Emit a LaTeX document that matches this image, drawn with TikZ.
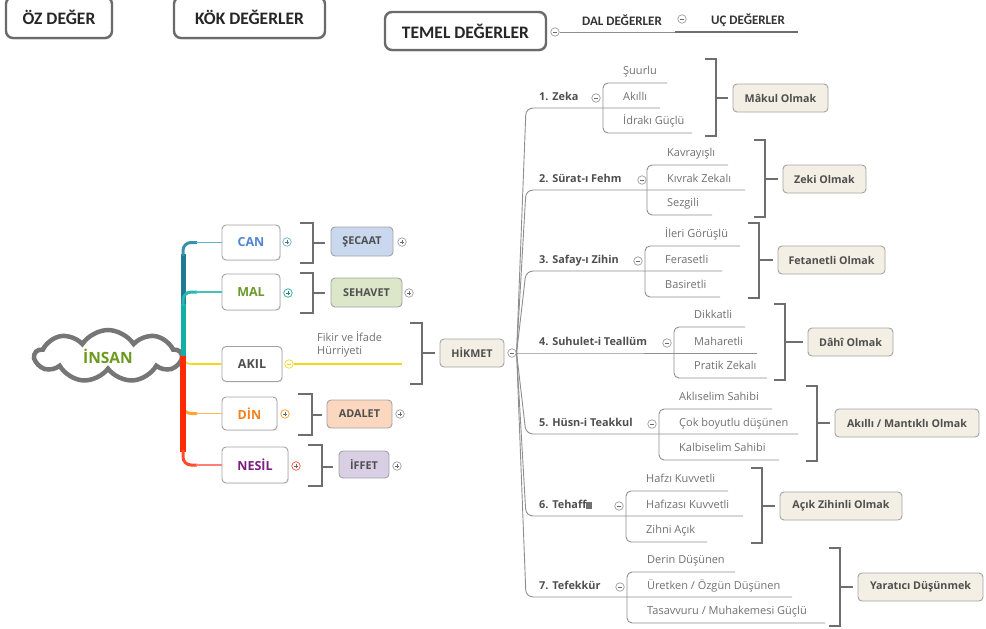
\documentclass[tikz,border=0pt]{standalone}
\usepackage{fontspec}
\setmainfont{Open Sans}
\newfontfamily\hdrfont{Carlito}
\usetikzlibrary{shapes.symbols,shadows,calc}

\definecolor{hdrgray}{HTML}{6A6A6A}
\definecolor{boxgray}{HTML}{A3A3A3}
\definecolor{linegray}{HTML}{8E8E8E}
\definecolor{brgray}{HTML}{6E6E6E}
\definecolor{toggray}{HTML}{9C9C9C}
\definecolor{signgray}{HTML}{6A6A6A}
\definecolor{txtdark}{HTML}{4F4F4F}
\definecolor{txtlight}{HTML}{707070}
\definecolor{cream}{HTML}{F3EFE4}
\definecolor{cloudgray}{HTML}{767676}
\definecolor{canD}{HTML}{1F7896}
\definecolor{canL}{HTML}{5DB6CB}
\definecolor{canT}{HTML}{4F86D0}
\definecolor{malD}{HTML}{12B0A4}
\definecolor{malL}{HTML}{45C5BA}
\definecolor{malT}{HTML}{6B9A2A}
\definecolor{akilC}{HTML}{F7D51E}
\definecolor{dinD}{HTML}{FF9A1F}
\definecolor{dinL}{HTML}{FFB657}
\definecolor{dinT}{HTML}{F08020}
\definecolor{nesD}{HTML}{FF2A00}
\definecolor{nesL}{HTML}{FF8076}
\definecolor{nesT}{HTML}{7B1F7F}
\definecolor{insanT}{HTML}{6B9A1E}
\definecolor{secF}{HTML}{C9D8EF}
\definecolor{sehF}{HTML}{DCE6C9}
\definecolor{adaF}{HTML}{FAD7BE}
\definecolor{iffF}{HTML}{D8CFE5}

\tikzset{
  hdr/.style={draw=hdrgray, line width=2.4pt, rounded corners=7pt, fill=white,
    font=\hdrfont\bfseries\fontsize{17.5}{19}\selectfont, text=black!85,
    drop shadow={opacity=0.25, shadow xshift=1pt, shadow yshift=-1.5pt}},
  hdrtxt/.style={font=\hdrfont\bfseries\fontsize{13}{15}\selectfont, text=black!80, inner sep=0pt},
  kok/.style={draw=boxgray, line width=0.9pt, rounded corners=4pt, fill=white,
    font=\bfseries\fontsize{12.5}{14}\selectfont, inner sep=0pt,
    drop shadow={opacity=0.15, shadow xshift=0.8pt, shadow yshift=-1pt}},
  val/.style={draw=boxgray, line width=0.9pt, rounded corners=4pt,
    font=\bfseries\fontsize{10.8}{12}\selectfont, text=txtdark, inner sep=0pt, minimum height=28pt},
  res/.style={draw=boxgray, line width=0.9pt, rounded corners=4pt, fill=cream,
    font=\bfseries\fontsize{10.7}{12}\selectfont, text=txtdark, inner sep=0pt, minimum height=28pt},
  sub/.style={font=\bfseries\fontsize{10.9}{12}\selectfont, text=txtdark, anchor=west,
    inner sep=0pt, text height=8pt, text depth=2.3pt},
  item/.style={font=\fontsize{11}{13}\selectfont, text=txtlight, anchor=west,
    inner sep=0pt, text height=8.3pt, text depth=2.6pt},
  mline/.style={draw=linegray, line width=0.9pt},
  brk/.style={draw=brgray, line width=2.2pt},
  tog/.style={circle, draw=toggray, fill=white, line width=0.7pt, minimum size=8.5pt, inner sep=0pt},
  minus/.style={path picture={\draw[#1, line width=0.8pt]
      ([xshift=2.1pt]path picture bounding box.west) -- ([xshift=-2.1pt]path picture bounding box.east);}},
  minus/.default=signgray,
  plus/.style={path picture={\draw[#1, line width=0.8pt]
      ([xshift=2.1pt]path picture bounding box.west) -- ([xshift=-2.1pt]path picture bounding box.east)
      ([yshift=-2.1pt]path picture bounding box.north) -- ([yshift=2.1pt]path picture bounding box.south);}},
  plus/.default=signgray
}

% one sub-branch of HİKMET: its line, the three underlines and the toggle
% #1 id, #2 line y, #3 top y, #4 bottom y, #5 bracket x, #6/#7/#8 ends, #9 toggle x
\newcommand\twig[9]{%
  \coordinate (#1-m) at (526,#2);
  \coordinate (#1-me) at (#7,#2);
  \coordinate (#1-tc) at (#5,#3);
  \coordinate (#1-te) at (#6,#3);
  \coordinate (#1-bc) at (#5,#4);
  \coordinate (#1-be) at (#8,#4);
  \coordinate (#1-mc) at (#5,#2);
  \draw[mline, rounded corners=7pt] (hk-tog.east) -- (#1-m) -- (#1-me);
  \draw[mline, rounded corners=5pt] (#1-te) -- (#1-tc) -- (#1-bc) -- (#1-be);
  \node[tog, minus] (#1-tog) at (#9,#2-10) {};
}
% the labels of a sub-branch
\newcommand\twigtext[5]{%
  \node[sub]  (#1-lab) at ($(#1-m)+(13,-10)$) {#2};
  \node[item] (#1-c1)  at ($(#1-tc)+(20,-11)$) {#3};
  \node[item] (#1-c2)  at ($(#1-mc)+(20,-10)$) {#4};
  \node[item] (#1-c3)  at ($(#1-bc)+(20,-11)$) {#5};
}
% closing bracket with its result box
% #1 id, #2 bracket x, #3 top, #4 bottom, #5 mid y, #6 stub end, #7 box centre x, #8 box width, #9 text
\newcommand\fruit[9]{%
  \draw[brk] (#2-11,#3) -- (#2,#3) -- (#2,#4) -- (#2-11,#4);
  \coordinate (#1-br) at (#2,#5);
  \node[res, minimum width=#8pt] (#1) at (#7,#5) {#9};
  \draw[brk] (#1-br) -- ([xshift=-5pt]#1.west |- #1-br);
}

\begin{document}
\begin{tikzpicture}[x=1pt,y=-1pt]
\useasboundingbox (0,0) rectangle (986,629);

% ---- level headings
\node[hdr, minimum width=106pt, minimum height=41pt] (oz) at (59,17.5) {ÖZ DEĞER};
\node[hdr, minimum width=151pt, minimum height=41pt] (kok) at (249.5,17.5) {KÖK DEĞERLER};
\node[hdr, minimum width=161pt, minimum height=38pt] (temel) at (465.5,31) {TEMEL DEĞERLER};
\node[tog, minus] (temel-tog) at (555,32) {};
\node[hdrtxt] (dal) at (622,20) {DAL DEĞERLER};
\node[tog, minus] (dal-tog) at (682,19) {};
\node[hdrtxt] (uc) at (748,20) {UÇ DEĞERLER};
\coordinate (dal-end) at (675,32);
\coordinate (uc-end) at (798,32);
\draw[mline] (temel-tog.east) -- (dal-end);
\draw[draw=brgray, line width=2.6pt] (dal-end) -- (uc-end);

% ---- central cloud
\node[cloud, cloud puffs=9, cloud puff arc=115, aspect=2.7, draw=cloudgray, line width=4.5pt,
      fill=white, minimum width=146pt, minimum height=52pt, inner sep=0pt,
      font=\bfseries\fontsize{15.5}{17}\selectfont, text=insanT] (insan) at (108,356) {İNSAN};
\coordinate (root) at (183,356);

% ---- root values
\node[kok, minimum width=58pt, minimum height=35pt, text=canT] (can) at (251,242.5) {CAN};
\node[kok, minimum width=58pt, minimum height=36pt, text=malT] (mal) at (251,292) {MAL};
\node[kok, minimum width=60pt, minimum height=35pt, text=txtdark] (akil) at (252,364) {AKIL};
\node[kok, minimum width=55pt, minimum height=33pt, text=dinT] (din) at (249.5,413.5) {DİN};
\node[kok, minimum width=66pt, minimum height=36pt, text=nesT] (nesil) at (255,465) {NESİL};

% ---- coloured limbs from the cloud
\draw[canD, line width=5pt] (root) -- (183,254);
\draw[canD!60!canL, line width=3pt, rounded corners=8pt] (183,256) -- (183,242.5) -- (197,242.5);
\draw[canL, line width=1.6pt] (196,242.5) -- (can.west);
\draw[malD, line width=5pt] (root) -- (183,304);
\draw[malD!60!malL, line width=3pt, rounded corners=8pt] (183,306) -- (183,292) -- (197,292);
\draw[malL, line width=1.6pt] (196,292) -- (mal.west);
\draw[akilC, line width=1.6pt] (root) .. controls (184,362) and (186,364) .. (192,364) -- (akil.west);
\draw[dinD, line width=5pt] (root) -- (183,402);
\draw[dinD!60!dinL, line width=3pt, rounded corners=8pt] (183,400) -- (183,413.5) -- (197,413.5);
\draw[dinL, line width=1.6pt] (196,413.5) -- (din.west);
\draw[nesD, line width=5.5pt] (root) -- (183,452);
\draw[nesD!60!nesL, line width=3pt, rounded corners=8pt] (183,450) -- (183,465) -- (197,465);
\draw[nesL, line width=1.6pt] (196,465) -- (nesil.west);

\node[tog, plus, draw=canL] (can-tog) at (287,242) {};
\node[tog, plus, draw=malD] (mal-tog) at (288,293) {};
\node[tog, minus=akilC, draw=akilC] (akil-tog) at (289,364) {};
\node[tog, plus, draw=dinD] (din-tog) at (285,414) {};
\node[tog, plus, draw=nesD!80] (nesil-tog) at (296,466) {};

% ---- virtues behind the root values
\node[val, fill=secF, minimum width=62pt, minimum height=29pt] (secaat) at (362,241.5) {ŞECAAT};
\node[val, fill=sehF, minimum width=71pt, minimum height=29pt] (sehavet) at (366.5,292.5) {SEHAVET};
\node[val, fill=adaF, minimum width=65pt] (adalet) at (359.5,414) {ADALET};
\node[val, fill=iffF, minimum width=50pt, minimum height=27pt] (iffet) at (364,464.5) {İFFET};
\node[tog, plus] (secaat-tog) at (402,242) {};
\node[tog, plus] (sehavet-tog) at (409,293) {};
\node[tog, plus] (adalet-tog) at (400,414) {};
\node[tog, plus] (iffet-tog) at (397,466) {};

\draw[brk] (300,223) -- (313,223) -- (313,263) -- (300,263);
\coordinate (can-br) at (313,243);
\draw[brk] (can-br) -- ([xshift=-6pt]secaat.west |- can-br);
\draw[brk] (300,273) -- (313,273) -- (313,313) -- (300,313);
\coordinate (mal-br) at (313,293);
\draw[brk] (mal-br) -- ([xshift=-6pt]sehavet.west |- mal-br);
\draw[brk] (298,394) -- (312,394) -- (312,435) -- (298,435);
\coordinate (din-br) at (312,415);
\draw[brk] (din-br) -- ([xshift=-5pt]adalet.west |- din-br);
\draw[brk] (308,445) -- (322,445) -- (322,486) -- (308,486);
\coordinate (nesil-br) at (322,467);
\draw[brk] (nesil-br) -- ([xshift=-6pt]iffet.west |- nesil-br);

% ---- AKIL towards HİKMET
\node[item, anchor=north west, align=left, text height=, text depth=, font=\fontsize{11}{13.5}\selectfont]
  (fikir) at (317,331) {Fikir ve İfade\\Hürriyeti};
\coordinate (akil-end) at (402,364);
\draw[akilC, line width=1.4pt] (akil-tog.east) -- (akil-end);
\node[res, minimum width=64pt] (hikmet) at (472,353) {HİKMET};
\draw[brk] (410,323) -- (422,323) -- (422,384) -- (410,384);
\coordinate (akil-br) at (422,353);
\draw[brk] (akil-br) -- ([xshift=-5pt]hikmet.west);
\node[tog, minus] (hk-tog) at (512,353) {};

% ---- branches of HİKMET
\twig{b1}{108}{83}{133}{603}{667}{660}{692}{596}
\twig{b2}{190}{165}{215}{647}{728}{745}{712}{642}
\twig{b3}{271}{246}{297}{645}{740}{722}{720}{638}
\twig{b4}{353}{327}{378}{674}{745}{757}{767}{667}
\twig{b5}{434}{409}{460}{659}{772}{798}{779}{652}
\twig{b6}{516}{491}{542}{626}{728}{743}{707}{619}
\twig{b7}{597}{572}{623}{627}{735}{792}{825}{620}

\twigtext{b1}{1. Zeka}{Şuurlu}{Akıllı}{İdrakı Güçlü}
\twigtext{b2}{2. Sürat-ı Fehm}{Kavrayışlı}{Kıvrak Zekalı}{Sezgili}
\twigtext{b3}{3. Safay-ı Zihin}{İleri Görüşlü}{Ferasetli}{Basiretli}
\twigtext{b4}{4. Suhulet-i Teallüm}{Dikkatli}{Maharetli}{Pratik Zekalı}
\twigtext{b5}{5. Hüsn-i Teakkul}{Aklıselim Sahibi}{Çok boyutlu düşünen}{Kalbiselim Sahibi}
\twigtext{b6}{6. Tehaff{\color{txtdark!80}\rule[0.2pt]{5.5pt}{6.5pt}}}{Hafzı Kuvvetli}{Hafızası Kuvvetli}{Zihni Açık}
\twigtext{b7}{7. Tefekkür}{Derin Düşünen}{Üretken / Özgün Düşünen}{Tasavvuru / Muhakemesi Güçlü}

\fruit{r1}{716}{59}{136}{98}{728}{780.5}{95}{Mâkul Olmak}
\fruit{r2}{765}{140}{217}{179}{777}{824.5}{83}{Zeki Olmak}
\fruit{r3}{759}{223}{298}{260}{773}{831.5}{107}{Fetanetli Olmak}
\fruit{r4}{785}{304}{380}{342}{800}{850.5}{85}{Dâhî Olmak}
\fruit{r5}{817}{386}{461}{423}{830}{907}{144}{Akıllı / Mantıklı Olmak}
\fruit{r6}{762}{468}{543}{506}{775}{841}{122}{Açık Zihinli Olmak}
\fruit{r7}{840}{548}{626}{587}{853}{920.5}{125}{Yaratıcı Düşünmek}
\end{tikzpicture}
\end{document}
